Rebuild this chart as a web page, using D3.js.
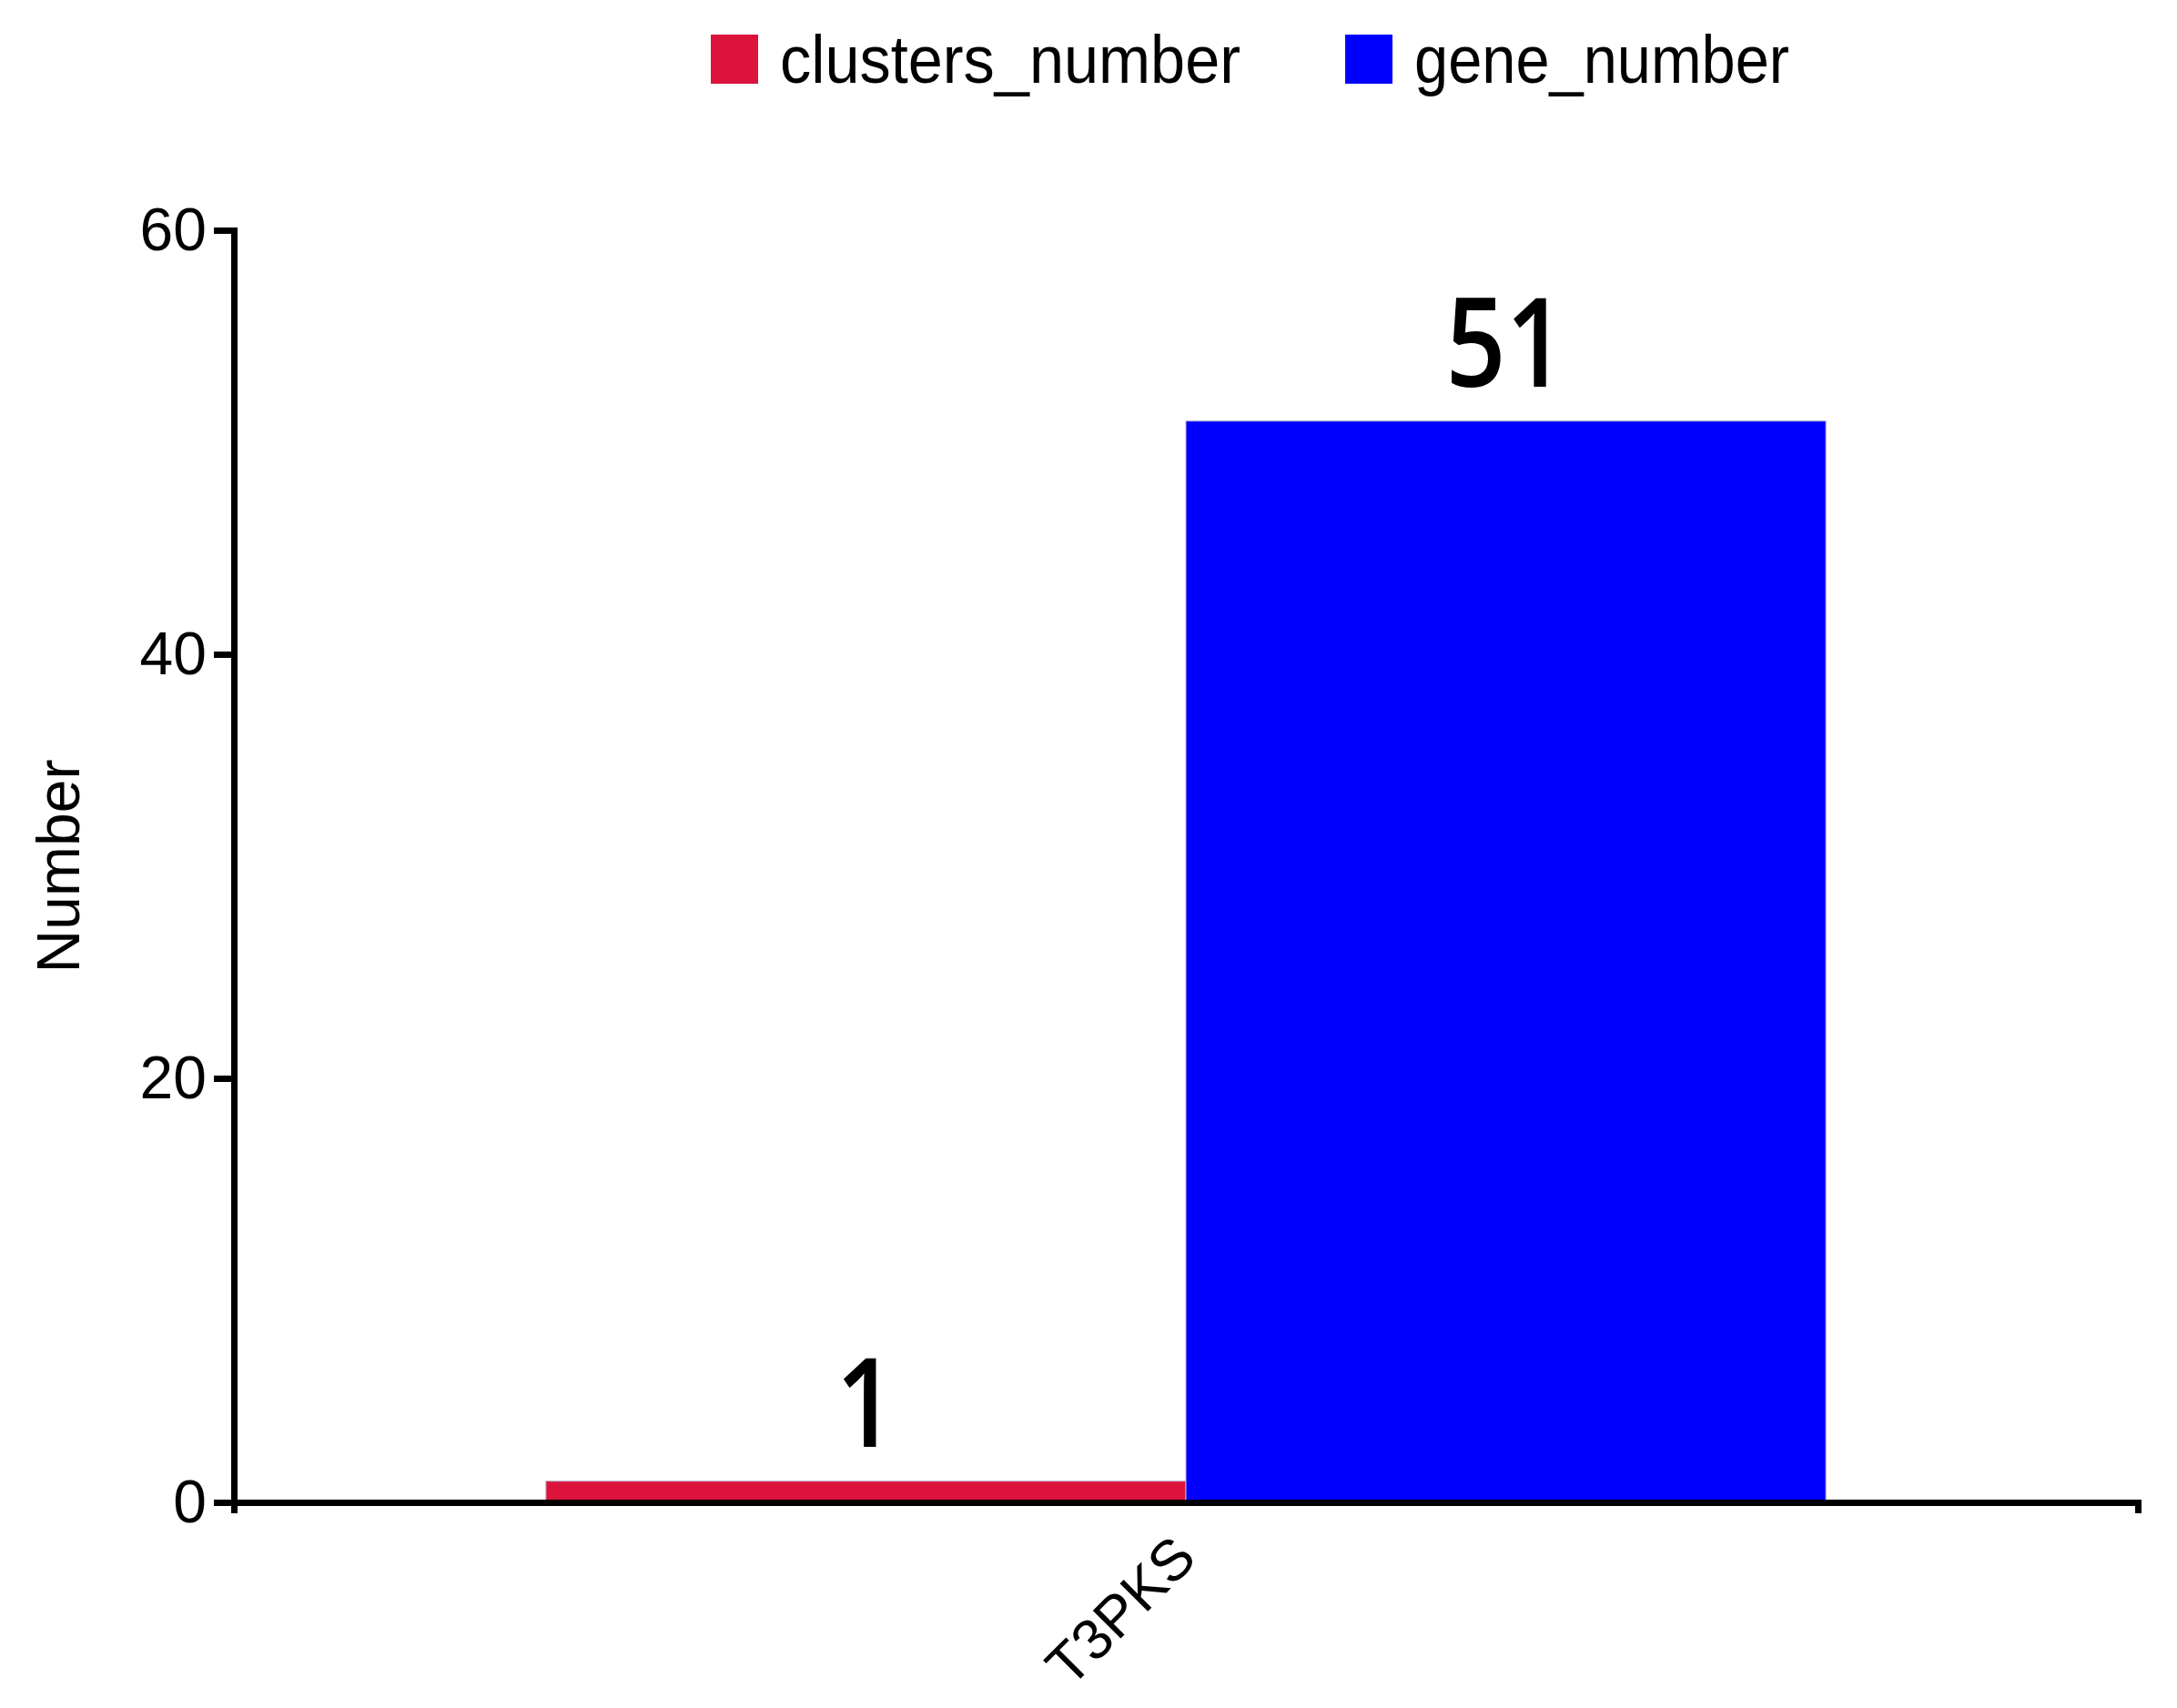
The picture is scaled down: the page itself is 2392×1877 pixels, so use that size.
<!DOCTYPE html>
<html>
<head>
<meta charset="utf-8">
<script src="https://cdn.jsdelivr.net/npm/d3@7"></script>
<style>
  body { margin: 0; background: #fff; }
  text { font-family: "Liberation Sans", Arial, sans-serif; }
</style>
</head>
<body>
<svg id="chart"></svg>
<script>
// data
var categories = ["T3PKS"];
var seriesNames = ["clusters_number", "gene_number"];
var clustersNumber = [1];
var geneNumber = [51];
var yTicks = [0, 20, 40, 60];
var colors = ["#DC143C", "#0000FF"];

const W = 2392, H = 1877;
const margin = {top: 253, right: 43, bottom: 226, left: 257};
const width = W - margin.left - margin.right;
const height = H - margin.top - margin.bottom;

var rows = categories.map(function (c, i) {
    return {cat: c, values: [clustersNumber[i], geneNumber[i]]};
});

var svg = d3.select("#chart")
    .attr("width", W)
    .attr("height", H);

var g = svg.append("g")
    .attr("transform", "translate(" + margin.left + "," + margin.top + ")");

var x0 = d3.scaleBand()
    .domain(categories)
    .range([0, width])
    .padding(0.196);

var x1 = d3.scaleBand()
    .domain(d3.range(seriesNames.length))
    .range([0, x0.bandwidth()])
    .padding(0);

var y = d3.scaleLinear()
    .domain([0, 60])
    .range([height, 0]);

// bars
var grp = g.selectAll(".grp")
    .data(rows)
    .enter().append("g")
    .attr("class", "grp")
    .attr("transform", function (d) { return "translate(" + x0(d.cat) + ",0)"; });

grp.selectAll("rect")
    .data(function (d) { return d.values; })
    .enter().append("rect")
    .attr("x", function (d, i) { return x1(i); })
    .attr("y", function (d) { return y(d); })
    .attr("width", x1.bandwidth())
    .attr("height", function (d) { return height - y(d); })
    .attr("fill", function (d, i) { return colors[i]; })
    .attr("stroke", "#b8b8d0")
    .attr("stroke-width", 1);

// value labels
grp.selectAll(".val")
    .data(function (d) { return d.values; })
    .enter().append("text")
    .attr("class", "val")
    .attr("transform", function (d, i) {
        return "translate(" + (x1(i) + x1.bandwidth() / 2) + "," + (y(d) - 38) + ") scale(0.85,1)";
    })
    .attr("text-anchor", "middle")
    .style("font-family", "'Open Sans', 'Noto Sans', sans-serif")
    .style("font-size", "136px")
    .style("font-weight", "600")
    .text(function (d) { return d; });

// y axis
var yAxis = g.append("g")
    .attr("class", "y axis")
    .call(d3.axisLeft(y).tickValues(yTicks).tickSize(22).tickPadding(8));
yAxis.selectAll("text").style("font-size", "66px").attr("fill", "#000");

// x axis
var xAxis = g.append("g")
    .attr("class", "x axis")
    .attr("transform", "translate(0," + height + ")")
    .call(d3.axisBottom(x0).tickSizeInner(0).tickSizeOuter(12).tickPadding(0));
xAxis.selectAll("text")
    .style("font-size", "63px")
    .attr("fill", "#000")
    .attr("text-anchor", "end")
    .attr("dy", null)
    .attr("y", null)
    .attr("transform", "translate(14,64) rotate(-45)");

g.selectAll(".axis path, .axis line")
    .attr("stroke", "#000")
    .attr("stroke-width", 7);
g.selectAll(".axis path").attr("stroke-linejoin", "miter");

// y title
g.append("text")
    .attr("transform", "translate(" + (87 - margin.left) + "," + (height / 2) + ") rotate(-90)")
    .attr("text-anchor", "middle")
    .style("font-size", "66px")
    .text("Number");

// legend
var legendX = [781, 1478];
var leg = svg.selectAll(".legend")
    .data(seriesNames)
    .enter().append("g")
    .attr("class", "legend")
    .attr("transform", function (d, i) { return "translate(" + legendX[i] + ",38)"; });

leg.append("rect")
    .attr("width", 52)
    .attr("height", 54)
    .attr("fill", function (d, i) { return colors[i]; });

leg.append("text")
    .attr("x", 76)
    .attr("y", 53)
    .style("font-size", "74px")
    .attr("textLength", function (d, i) { return i === 0 ? 506 : 412; })
    .attr("lengthAdjust", "spacingAndGlyphs")
    .text(function (d) { return d; });
</script>
</body>
</html>
